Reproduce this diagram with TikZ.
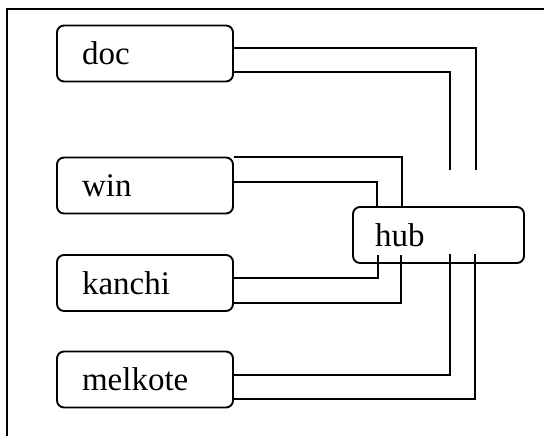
\documentclass[tikz,border=0pt]{standalone}
\usepackage{fontspec}
\setmainfont{Liberation Serif}
\begin{document}
\begin{tikzpicture}[x=1pt,y=-1pt,line width=1.9pt,
  host/.style={draw,rounded corners=7pt,minimum height=56pt,
    inner xsep=25pt,text width=126pt,align=left,
    font=\fontsize{33}{38}\selectfont},
  hubbox/.style={host,inner xsep=22pt,text width=127pt}]
\useasboundingbox (0,0) rectangle (544,436);
% frame
\draw[line width=1.3pt] (544,9) -- (7,9) -- (7,436);
% hosts
\node[host] (doc) at (145,53.5) {doc};
\node[host] (win) at (145,185.5) {win};
\node[host] (kanchi) at (145,283) {kanchi};
\node[host] (melkote) at (145,379.5) {melkote};
\node[hubbox] (hub) at (438.5,235) {hub};
% free ends of the links
\coordinate (dA) at (476,170);
\coordinate (dB) at (450,170);
\coordinate (kA) at (378,255);
\coordinate (kB) at (401,255);
\coordinate (mA) at (450,254);
\coordinate (mB) at (475,254);
% links
\draw (doc.east |- 0,48) -| (dA);
\draw (doc.east |- 0,72) -| (dB);
\draw (win.east |- 0,157) -| (hub.north -| 402,0);
\draw (win.east |- 0,182) -| (hub.north -| 377,0);
\draw (kanchi.east |- 0,278) -| (kA);
\draw (kanchi.east |- 0,303) -| (kB);
\draw (melkote.east |- 0,375) -| (mA);
\draw (melkote.east |- 0,399) -| (mB);
\end{tikzpicture}
\end{document}
